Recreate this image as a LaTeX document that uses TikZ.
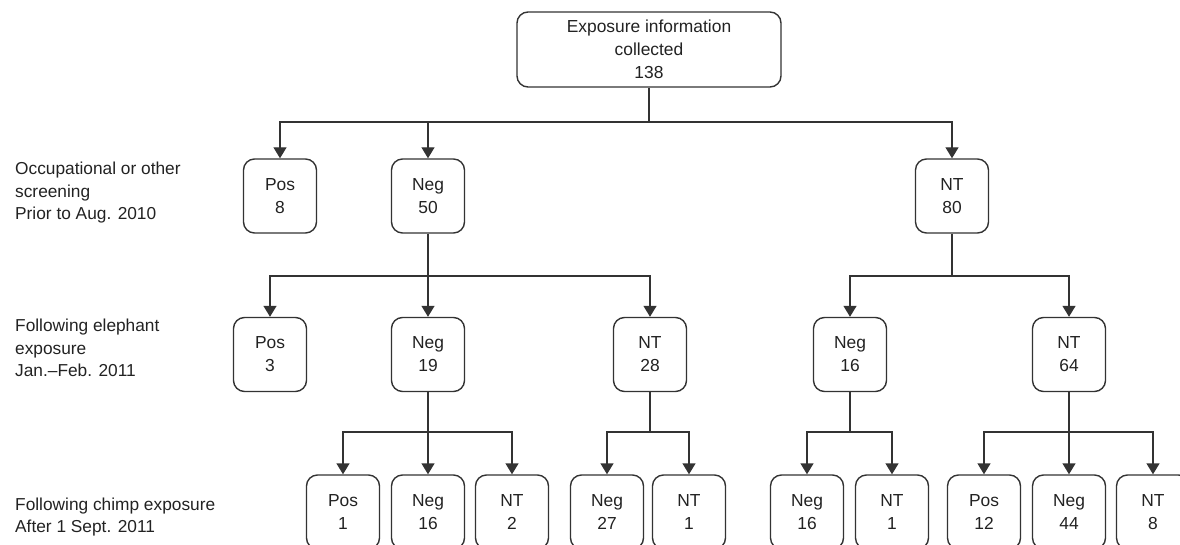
\documentclass[tikz,border=0pt]{standalone}
\usepackage{fontspec}
\setmainfont{Liberation Sans}
\usetikzlibrary{arrows.meta}
\definecolor{ln}{HTML}{333333}
\definecolor{tx}{HTML}{222222}
\begin{document}
\begin{tikzpicture}[x=1pt,y=-1pt,
  box/.style={draw=ln,line width=1.4pt,rounded corners=11pt,minimum width=73pt,minimum height=74pt,
    align=center,text=tx,font=\fontsize{17.4}{23}\selectfont,inner sep=0pt},
  lab/.style={anchor=west,align=left,text=tx,font=\fontsize{17.3}{22.5}\selectfont,inner sep=0pt},
  line/.style={draw=ln,line width=1.4pt},
  arr/.style={line,-{Triangle[width=13pt,length=11pt]}}]
\useasboundingbox (0,0) rectangle (1180,545);
\clip (0,0) rectangle (1180,545);
% top
\node[box,minimum width=264pt,minimum height=75pt] (top) at (649,49.5) {Exposure information\\collected\\138};
% level 1
\node[box] (pos8) at (280,196) {Pos\\8};
\node[box] (neg50) at (428,196) {Neg\\50};
\node[box] (nt80) at (952,196) {NT\\80};
% level 2
\node[box] (pos3) at (270,354.5) {Pos\\3};
\node[box] (neg19) at (428,354.5) {Neg\\19};
\node[box] (nt28) at (650,354.5) {NT\\28};
\node[box] (neg16a) at (850,354.5) {Neg\\16};
\node[box] (nt64) at (1069,354.5) {NT\\64};
% level 3
\node[box] (pos1) at (343,512) {Pos\\1};
\node[box] (neg16b) at (428,512) {Neg\\16};
\node[box] (nt2) at (512,512) {NT\\2};
\node[box] (neg27) at (607,512) {Neg\\27};
\node[box] (nt1a) at (689,512) {NT\\1};
\node[box] (neg16c) at (807,512) {Neg\\16};
\node[box] (nt1b) at (892,512) {NT\\1};
\node[box] (pos12) at (984,512) {Pos\\12};
\node[box] (neg44) at (1069,512) {Neg\\44};
\node[box] (nt8) at (1153,512) {NT\\8};
% labels
\node[lab] (l1) at (15,193) {Occupational or other\\screening\\Prior to Aug. 2010};
\node[lab] (l2) at (15,348) {Following elephant\\exposure\\Jan.--Feb. 2011};
\node[lab] (l3) at (15,517) {Following chimp exposure\\After 1 Sept. 2011};
% junctions
\coordinate (j0) at (649,122);
\coordinate (j1) at (428,276);
\coordinate (j2) at (952,276);
\coordinate (j3) at (428,432);
\coordinate (j4) at (650,432);
\coordinate (j5) at (850,432);
\coordinate (j6) at (1069,432);
% connectors
\draw[line] (top.south) -- (j0);
\draw[arr] (j0) -| (pos8.north);
\draw[arr] (j0) -| (neg50.north);
\draw[arr] (j0) -| (nt80.north);
\draw[line] (neg50.south) -- (j1);
\draw[arr] (j1) -| (pos3.north);
\draw[arr] (j1) -- (neg19.north);
\draw[arr] (j1) -| (nt28.north);
\draw[line] (nt80.south) -- (j2);
\draw[arr] (j2) -| (neg16a.north);
\draw[arr] (j2) -| (nt64.north);
\draw[line] (neg19.south) -- (j3);
\draw[arr] (j3) -| (pos1.north);
\draw[arr] (j3) -- (neg16b.north);
\draw[arr] (j3) -| (nt2.north);
\draw[line] (nt28.south) -- (j4);
\draw[arr] (j4) -| (neg27.north);
\draw[arr] (j4) -| (nt1a.north);
\draw[line] (neg16a.south) -- (j5);
\draw[arr] (j5) -| (neg16c.north);
\draw[arr] (j5) -| (nt1b.north);
\draw[line] (nt64.south) -- (j6);
\draw[arr] (j6) -| (pos12.north);
\draw[arr] (j6) -- (neg44.north);
\draw[arr] (j6) -| (nt8.north);
\end{tikzpicture}
\end{document}
